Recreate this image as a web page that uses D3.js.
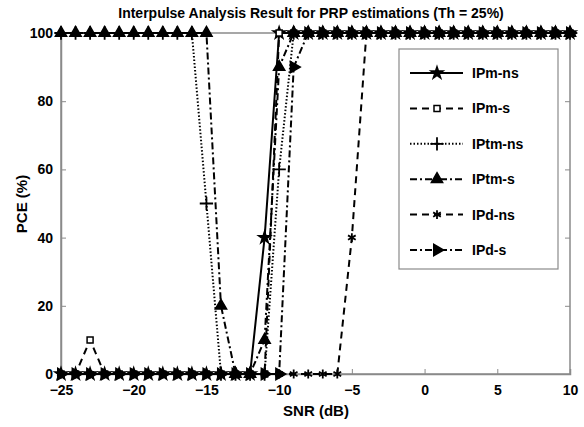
<!DOCTYPE html>
<html><head><meta charset="utf-8">
<script src="https://cdn.jsdelivr.net/npm/d3@7"></script>
<style>
body{margin:0;background:#fff;}
text{font-family:"Liberation Sans",Arial,sans-serif;font-weight:bold;fill:#000;}
</style></head>
<body><svg id="c" width="584" height="427"></svg>
<script>
const snr = d3.range(-25, 11, 1);
// values at SNR = -25..10 (dB)
const ipmNs  = [0,0,0,0,0,0,0,0,0,0,0,0,0,0,40,100,100,100,100,100,100,100,100,100,100,100,100,100,100,100,100,100,100,100,100,100];
const ipmS   = [0,0,10,0,0,0,0,0,0,0,0,0,0,0,0,100,100,100,100,100,100,100,100,100,100,100,100,100,100,100,100,100,100,100,100,100];
const iptmNs = [100,100,100,100,100,100,100,100,100,100,50,0,0,0,0,60,100,100,100,100,100,100,100,100,100,100,100,100,100,100,100,100,100,100,100,100];
const iptmS  = [100,100,100,100,100,100,100,100,100,100,100,20,0,0,10,90,100,100,100,100,100,100,100,100,100,100,100,100,100,100,100,100,100,100,100,100];
const ipdNs  = [0,0,0,0,0,0,0,0,0,0,0,0,0,0,0,0,0,0,0,0,40,100,100,100,100,100,100,100,100,100,100,100,100,100,100,100];
const ipdS   = [0,0,0,0,0,0,0,0,0,0,0,0,0,0,0,0,90,100,100,100,100,100,100,100,100,100,100,100,100,100,100,100,100,100,100,100];
const seriesNames = ["IPm-ns","IPm-s","IPtm-ns","IPtm-s","IPd-ns","IPd-s"];
const xTicks = [-25,-20,-15,-10,-5,0,5,10];
const yTicks = [0,20,40,60,80,100];
const titleText = "Interpulse Analysis Result for PRP estimations (Th = 25%)";

const svg = d3.select("#c");
const x = d3.scaleLinear().domain([-25,10]).range([61,570]);
const y = d3.scaleLinear().domain([0,100]).range([374,33]);
const axisCol = "#8a8a8a";

svg.append("rect").attr("x",61).attr("y",33).attr("width",509).attr("height",341)
  .attr("fill","none").attr("stroke",axisCol).attr("stroke-width",1.5);

const gx = svg.append("g").attr("transform","translate(0,374)")
  .call(d3.axisBottom(x).tickValues(xTicks).tickSize(-5).tickPadding(11).tickFormat(d3.format("d")));
const gy = svg.append("g").attr("transform","translate(61,0)")
  .call(d3.axisLeft(y).tickValues(yTicks).tickSize(-5).tickPadding(8));
[gx,gy].forEach(g=>{
  g.select(".domain").attr("stroke",axisCol).attr("stroke-width",1.5);
  g.selectAll(".tick line").attr("stroke",axisCol);
  g.selectAll("text").style("font-size","14px").style("font-family","Liberation Sans, Arial, sans-serif").style("font-weight","bold").attr("fill","#000");
});
svg.append("g").attr("transform","translate(0,33)").call(d3.axisTop(x).tickValues(xTicks).tickSize(-5).tickFormat(""))
  .call(g=>{g.select(".domain").remove();g.selectAll("line").attr("stroke",axisCol);});
svg.append("g").attr("transform","translate(570,0)").call(d3.axisRight(y).tickValues(yTicks).tickSize(-5).tickFormat(""))
  .call(g=>{g.select(".domain").remove();g.selectAll("line").attr("stroke",axisCol);});

svg.append("text").attr("x",311).attr("y",18).attr("text-anchor","middle").style("font-size","14px").text(titleText);
svg.append("text").attr("x",316).attr("y",416).attr("text-anchor","middle").style("font-size","15px").text("SNR (dB)");
svg.append("text").attr("transform","translate(27,204) rotate(-90)").attr("text-anchor","middle").style("font-size","15px").text("PCE (%)");

const styles = [
  {vals:ipmNs, dash:null, sym:d3.symbolStar, size:45, fill:"#000"},
  {vals:ipmS, dash:"7,5", sym:d3.symbolSquare, size:36, fill:"#fff"},
  {vals:iptmNs, dash:"1.5,2", sym:d3.symbolPlus, size:60, fill:"#000", stroke:true},
  {vals:iptmS, dash:"7,3,2,3", sym:d3.symbolTriangle, size:55, fill:"#000"},
  {vals:ipdNs, dash:"7,5", sym:d3.symbolAsterisk, size:55, fill:"none", stroke:true},
  {vals:ipdS, dash:"7,3,2,3", sym:d3.symbolTriangle, size:55, fill:"#000", rot:90}
];
const line = d3.line().x(d=>x(d[0])).y(d=>y(d[1]));

function drawMarker(g, st, cx, cy){
  const p = g.append("path").attr("d", d3.symbol(st.sym, st.size)())
    .attr("transform",`translate(${cx},${cy})` + (st.rot?` rotate(${st.rot})`:""));
  if(st.stroke){ p.attr("fill","none").attr("stroke","#000").attr("stroke-width",1.8); }
  else { p.attr("fill",st.fill).attr("stroke","#000").attr("stroke-width",1.5); }
}

styles.forEach(st=>{
  const pts = snr.map((s,i)=>[s, st.vals[i]]);
  const g = svg.append("g");
  g.append("path").datum(pts).attr("d",line).attr("fill","none").attr("stroke","#000")
    .attr("stroke-width",2).attr("stroke-dasharray",st.dash);
  pts.forEach(p=>drawMarker(g, st, x(p[0]), y(p[1])));
});

const lg = svg.append("g");
lg.append("rect").attr("x",399).attr("y",49).attr("width",159).attr("height",220)
  .attr("fill","#fff").attr("stroke",axisCol).attr("stroke-width",1.2);
seriesNames.forEach((n,i)=>{
  const yy = 73 + i*35.4;
  const st = styles[i];
  lg.append("line").attr("x1",410).attr("x2",463).attr("y1",yy).attr("y2",yy)
    .attr("stroke","#000").attr("stroke-width",2).attr("stroke-dasharray",st.dash);
  drawMarker(lg, st, 437, yy);
  lg.append("text").attr("x",472).attr("y",yy+5).style("font-size","14px").text(n);
});
</script></body></html>
